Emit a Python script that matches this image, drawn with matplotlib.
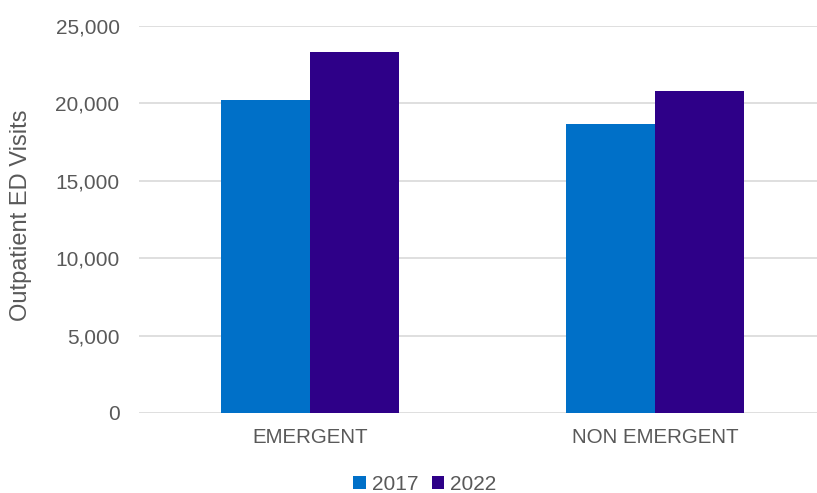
import matplotlib.pyplot as plt
import numpy as np

# data
categories = ['EMERGENT', 'NON EMERGENT']
years = ['2017', '2022']
visits_2017 = [20200, 18700]
visits_2022 = [23320, 20780]
yticks = [0, 5000, 10000, 15000, 20000, 25000]

plt.rcParams['font.family'] = ['Liberation Sans', 'DejaVu Sans']

fig = plt.figure(figsize=(8.17, 4.93), dpi=100)
ax = fig.add_axes([139/817, 80/493, 1 - 139/817, 387/493])

x = np.arange(len(categories))
w = 0.258
b1 = ax.bar(x - w/2, visits_2017, width=w, color='#0070C8', label=years[0], zorder=3)
b2 = ax.bar(x + w/2, visits_2022, width=w, color='#2E0088', label=years[1], zorder=3)

ax.set_xlim(-0.496, 1.47)
ax.set_ylim(0, 25000)
ax.set_yticks(yticks)
ax.set_yticklabels([f'{v:,}' for v in yticks])
ax.set_xticks(x)
ax.set_xticklabels(categories)
ax.grid(axis='y', color='#D9D9D9', linewidth=1.2, zorder=0)
for s in ax.spines.values():
    s.set_visible(False)
ax.tick_params(axis='y', length=0, pad=14, labelsize=15, labelcolor='#595959')
ax.tick_params(axis='x', length=0, pad=11, labelsize=14.8, labelcolor='#595959')
ax.set_ylabel('Outpatient ED Visits', fontsize=17, color='#595959')
# put the label where the reference has it (right edge ~32px, centre ~215px)
ax.yaxis.set_label_coords(-0.158, 0.512)

fig.legend(handles=[b1, b2], loc='center', bbox_to_anchor=(425/817, 9/493), ncol=2,
           frameon=False, fontsize=15, labelcolor='#595959', handlelength=0.6,
           handleheight=0.6, handletextpad=0.3, columnspacing=0.62)

fig.savefig('out.png', dpi=100)
